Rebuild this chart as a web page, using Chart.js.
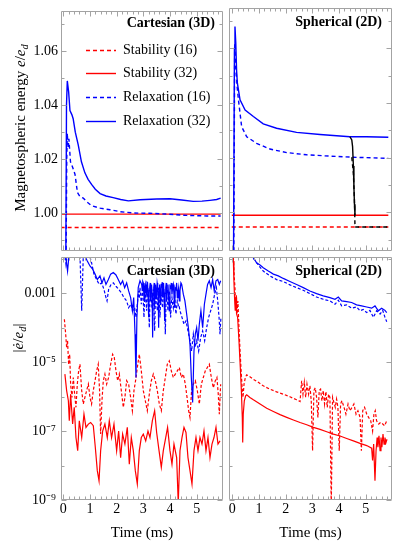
<!DOCTYPE html>
<html><head><meta charset="utf-8">
<script src="https://cdn.jsdelivr.net/npm/chart.js@4.4.1/dist/chart.umd.min.js"></script>
<style>
html,body{margin:0;padding:0;background:#fff;}
#wrap{position:relative;width:399px;height:546px;overflow:hidden;font-family:"Liberation Serif",serif;color:#000;}
canvas{position:absolute;left:0;top:0;}
.t{position:absolute;white-space:nowrap;line-height:16px;font-size:14px;}
.b{font-weight:bold;}
.rot{position:absolute;white-space:nowrap;font-size:15px;transform:translate(-50%,-50%) rotate(-90deg);}
.lg{position:absolute;left:86px;height:16px;white-space:nowrap;font-size:14px;line-height:16px;}
.lg svg{position:absolute;left:0;top:7px;}
.lg span{position:absolute;left:37px;top:0;}
sub{font-size:70%;vertical-align:-3px;line-height:0;}
</style></head><body>
<div id="wrap">
<canvas id="cTL" width="399" height="546" style="width:399px;height:546px"></canvas>
<canvas id="cTR" width="399" height="546" style="width:399px;height:546px"></canvas>
<canvas id="cBL" width="399" height="546" style="width:399px;height:546px"></canvas>
<canvas id="cBR" width="399" height="546" style="width:399px;height:546px"></canvas>

<div class="t b" style="right:184px;top:15px">Cartesian (3D)</div>
<div class="t b" style="right:17px;top:14px">Spherical (2D)</div>
<div class="t b" style="right:184px;top:263px">Cartesian (3D)</div>
<div class="t b" style="right:17px;top:263px">Spherical (2D)</div>

<div class="lg" style="top:42px"><svg width="30" height="3"><line x1="0" y1="1.5" x2="30" y2="1.5" stroke="rgb(255,0,0)" stroke-width="1.4" stroke-dasharray="4,3"/></svg><span>Stability (16)</span></div>
<div class="lg" style="top:65px"><svg width="30" height="3"><line x1="0" y1="1.5" x2="30" y2="1.5" stroke="rgb(255,0,0)" stroke-width="1.4"/></svg><span>Stability (32)</span></div>
<div class="lg" style="top:89px"><svg width="30" height="3"><line x1="0" y1="1.5" x2="30" y2="1.5" stroke="rgb(0,0,255)" stroke-width="1.4" stroke-dasharray="4,3"/></svg><span>Relaxation (16)</span></div>
<div class="lg" style="top:113px"><svg width="30" height="3"><line x1="0" y1="1.5" x2="30" y2="1.5" stroke="rgb(0,0,255)" stroke-width="1.4"/></svg><span>Relaxation (32)</span></div>

<div class="rot" style="left:20px;top:128px">Magnetospheric energy <i>e</i>/<i>e</i><sub><i>d</i></sub></div>
<div class="rot" style="left:18px;top:338px">|<i>ė</i>/<i>e</i><sub><i>d</i></sub>|</div>
</div>
<script>
// ---------- tick values / labels ----------
const timeTicks = [0, 1, 2, 3, 4, 5];
const timeTickLabels = ['0', '1', '2', '3', '4', '5'];
const timeMinorTicks = [0.2,0.4,0.6,0.8,1.2,1.4,1.6,1.8,2.2,2.4,2.6,2.8,3.2,3.4,3.6,3.8,4.2,4.4,4.6,4.8,5.2,5.4,5.6,5.8];
const energyTicks = [1.00, 1.02, 1.04, 1.06];
const energyTickLabels = ['1.00', '1.02', '1.04', '1.06'];
const energyMinorTicks = [0.99, 1.01, 1.03, 1.05, 1.07];
const rateTicks = [1e-9, 1e-7, 1e-5, 1e-3];
const rateTickLabels = ['10⁻⁹', '10⁻⁷', '10⁻⁵', '0.001'];
const rateMinorTicks = [1e-8, 1e-6, 1e-4, 1e-2];

// ---------- Cartesian (3D): magnetospheric energy e/e_d vs time (ms) ----------
const cartEnergyRelax32 = [[0.08,0.95],[0.12,1.04],[0.15,1.049],[0.2,1.045],[0.25,1.038],[0.32,1.0365],[0.37,1.035],[0.45,1.030],[0.56,1.0253],[0.68,1.019],[0.81,1.0149],[0.93,1.0125],[1.06,1.0106],[1.2,1.0088],[1.38,1.0072],[1.6,1.0063],[1.87,1.0057],[2.15,1.0050],[2.44,1.0045],[2.88,1.0049],[3.5,1.0052],[4.0,1.0053],[4.44,1.0048],[4.87,1.0043],[5.2,1.0044],[5.5,1.0047],[5.75,1.0050],[5.9,1.0055]];
const cartEnergyRelax16 = [[0.08,0.95],[0.13,1.02],[0.15,1.0296],[0.18,1.024],[0.21,1.0275],[0.27,1.019],[0.35,1.017],[0.44,1.0143],[0.53,1.0076],[0.63,1.006],[0.75,1.0055],[0.9,1.004],[1.06,1.0027],[1.38,1.0018],[1.75,1.0012],[2.13,1.0005],[2.63,1.0000],[3.25,0.9999],[3.88,0.9996],[4.63,0.9991],[5.38,0.9989],[5.9,0.9989]];
const cartEnergyStab32 = [[-0.1,0.9996],[5.9,0.9996]];
const cartEnergyStab16 = [[-0.1,0.9946],[5.9,0.9946]];

// ---------- Spherical (2D): magnetospheric energy ----------
const sphEnergyRelax32 = [[0.03,0.95],[0.08,1.06],[0.10,1.068],[0.13,1.062],[0.16,1.052],[0.19,1.0473],[0.29,1.0412],[0.48,1.0375],[0.79,1.0351],[1.16,1.0324],[1.66,1.0308],[2.41,1.0293],[3.29,1.0285],[4.41,1.0277],[5.03,1.0277],[5.85,1.0275]];
const sphEnergyRelax16 = [[0.04,0.95],[0.09,1.062],[0.12,1.056],[0.18,1.046],[0.23,1.0412],[0.35,1.0314],[0.54,1.0277],[0.91,1.0253],[1.41,1.0232],[2.04,1.0219],[2.79,1.0211],[3.66,1.0206],[4.54,1.0202],[5.85,1.0198]];
const sphEnergyStab32 = [[-0.02,0.9990],[5.85,0.9990]];
const sphEnergyStab16 = [[-0.02,0.9947],[5.85,0.9947]];
const sphEnergySwitch32 = [[4.41,1.0277],[4.48,1.0265],[4.51,1.0241],[4.54,1.017],[4.56,1.0094],[4.58,1.003],[4.60,0.9990]];
const sphEnergySwitch16 = [[4.48,1.0202],[4.54,1.0143],[4.58,1.0045],[4.60,0.9947],[5.85,0.9947]];

// ---------- Cartesian (3D): |de/dt / e_d| ----------
const cartRateStab32 = [[0.06,4.5e-6],[0.125,1.5e-6],[0.19,7.6e-7],[0.225,2.0e-7],[0.275,1.18e-6],[0.35,1.6e-7],[0.41,4.9e-7],[0.475,6.5e-8],[0.54,2.7e-8],[0.6,2.0e-7],[0.69,6.5e-8],[0.775,3.1e-7],[0.85,1.28e-7],[0.94,1.6e-7],[1.025,1.78e-7],[1.125,1.43e-7],[1.2,3.4e-8],[1.275,7.1e-9],[1.34,3.6e-9],[1.4,2.7e-8],[1.475,1.0e-7],[1.56,1.6e-7],[1.65,6.5e-8],[1.725,2.0e-7],[1.81,6.5e-8],[1.9,1.6e-7],[2.0,2.7e-8],[2.075,1.0e-7],[2.15,1.7e-8],[2.225,8.2e-8],[2.31,4.2e-8],[2.4,1.28e-7],[2.475,1.1e-8],[2.55,6.5e-8],[2.625,2.7e-8],[2.7,7.1e-9],[2.775,2.9e-9],[2.85,2.7e-8],[2.925,6.5e-8],[3.0,8.2e-8],[3.09,5.2e-8],[3.175,1.0e-7],[3.25,6.5e-8],[3.34,2.0e-7],[3.425,3.9e-7],[3.5,9.1e-8],[3.59,2.7e-8],[3.675,8.9e-9],[3.75,2.7e-8],[3.84,6.5e-8],[3.91,1.28e-7],[4.0,2.7e-8],[4.075,1.1e-8],[4.15,4.2e-8],[4.25,1.7e-8],[4.31,8e-10],[4.375,2.7e-8],[4.45,6.5e-8],[4.525,1.28e-7],[4.6,9.1e-8],[4.675,1.7e-8],[4.75,7.1e-9],[4.825,2.9e-9],[4.9,2.7e-8],[4.975,6.5e-8],[5.05,2.7e-8],[5.125,6.5e-8],[5.2,4.2e-8],[5.275,1.0e-7],[5.35,2.7e-8],[5.425,6.5e-8],[5.5,1.7e-8],[5.575,4.2e-8],[5.65,6.5e-8],[5.725,1.28e-7],[5.8,4.2e-8],[5.875,5.2e-8]];
const cartRateStab16 = [[0.04,1.76e-4],[0.09,6.5e-5],[0.125,2.7e-5],[0.16,4.2e-5],[0.2,8.7e-6],[0.24,1.7e-5],[0.275,2.3e-6],[0.325,9.5e-7],[0.375,3.6e-6],[0.425,1.18e-6],[0.475,4.9e-7],[0.525,2.3e-6],[0.575,5.6e-6],[0.625,8.7e-6],[0.69,1.5e-6],[0.75,6.1e-7],[0.81,9.5e-7],[0.875,1.5e-6],[0.94,2.3e-6],[1.0,9.5e-7],[1.06,6.1e-7],[1.125,1.5e-6],[1.19,2.9e-6],[1.25,5.6e-6],[1.31,8.7e-6],[1.36,1.5e-6],[1.4,8.2e-8],[1.45,7.6e-7],[1.5,2.9e-6],[1.56,4.5e-6],[1.625,2.3e-6],[1.7,3.6e-6],[1.775,8.7e-6],[1.85,1.7e-5],[1.91,1.4e-5],[1.975,5.6e-6],[2.04,2.9e-6],[2.1,4.5e-6],[2.175,1.5e-6],[2.25,4.9e-7],[2.31,9.5e-7],[2.375,2.9e-6],[2.45,2.3e-6],[2.525,9.5e-7],[2.59,3.9e-7],[2.65,1.5e-6],[2.71,2.9e-6],[2.775,7.0e-6],[2.85,1.7e-5],[2.925,5.6e-6],[3.0,1.5e-6],[3.075,7.6e-7],[3.15,3.9e-7],[3.225,1.18e-6],[3.3,2.9e-6],[3.375,4.5e-6],[3.45,2.9e-6],[3.525,1.5e-6],[3.6,6.1e-7],[3.675,3.9e-7],[3.75,1.5e-6],[3.825,3.6e-6],[3.9,8.7e-6],[3.975,1.09e-5],[4.05,5.6e-6],[4.125,3.6e-6],[4.2,4.5e-6],[4.275,5.6e-6],[4.35,7.0e-6],[4.425,3.6e-6],[4.5,4.5e-6],[4.575,2.3e-6],[4.64,9.5e-7],[4.7,3.9e-7],[4.75,2.5e-7],[4.81,1.5e-6],[4.875,2.3e-6],[4.95,2.9e-6],[5.025,1.5e-6],[5.1,6.1e-7],[5.175,2.3e-6],[5.25,3.6e-6],[5.325,5.6e-6],[5.4,7.0e-6],[5.475,8.7e-6],[5.55,3.6e-6],[5.625,1.8e-6],[5.7,2.9e-6],[5.76,3.6e-6],[5.81,1.18e-6],[5.85,3.1e-7],[5.9,2.3e-6]];
const cartRateRelax32 = [[0.0,0.03],[0.09,0.012],[0.16,4.4e-3],[0.21,0.012],[0.5,0.015],[0.81,1.2e-2],[0.9,8.6e-3],[1.0,6.2e-3],[1.1,5.0e-3],[1.19,3.6e-3],[1.275,2.5e-3],[1.375,3.2e-3],[1.45,2.0e-3],[1.525,2.8e-3],[1.6,1.8e-3],[1.69,2.5e-3],[1.775,3.6e-3],[1.875,4.0e-3],[1.975,3.4e-3],[2.06,2.5e-3],[2.15,1.8e-3],[2.225,2.3e-3],[2.3,1.46e-3],[2.375,2.0e-3],[2.45,1.17e-3],[2.525,7.5e-4],[2.59,3.1e-4],[2.64,7.5e-4],[2.69,6.5e-5],[2.725,3.6e-6],[2.76,2.0e-4],[2.81,1.46e-3],[2.875,2.3e-3],[2.94,1.8e-3],[2.96,1.2e-3],[2.98,2.2e-3],[3.0,2.0e-3],[3.02,9e-4],[3.04,6.0e-4],[3.06,1.5e-3],[3.075,1.8e-3],[3.1,1.1e-3],[3.125,9.4e-4],[3.14,2.1e-3],[3.16,2.0e-3],[3.18,8e-4],[3.2,2.0e-4],[3.22,1.2e-3],[3.24,1.46e-3],[3.26,2.0e-3],[3.275,6.0e-4],[3.29,1.3e-3],[3.31,1.8e-3],[3.33,1.0e-3],[3.35,5.2e-5],[3.37,9e-4],[3.39,1.46e-3],[3.41,2.0e-3],[3.425,3.8e-4],[3.44,1.2e-3],[3.46,1.8e-3],[3.48,7e-4],[3.5,9.4e-4],[3.52,2.0e-3],[3.54,1.6e-3],[3.56,8e-4],[3.575,1.0e-4],[3.59,1.1e-3],[3.61,1.8e-3],[3.63,1.0e-3],[3.65,4.8e-4],[3.67,1.9e-3],[3.69,1.46e-3],[3.71,2.1e-3],[3.725,7.5e-4],[3.74,1.3e-3],[3.76,2.0e-3],[3.78,9e-4],[3.8,1.58e-4],[3.82,1.0e-3],[3.84,1.46e-3],[3.86,2.0e-3],[3.875,6.0e-4],[3.9,1.2e-3],[3.925,1.8e-3],[3.95,8e-4],[3.975,3.1e-4],[4.0,1.6e-3],[4.025,1.46e-3],[4.05,2.0e-3],[4.075,9.4e-4],[4.1,1.5e-3],[4.125,1.8e-3],[4.15,9e-4],[4.175,3.8e-4],[4.2,1.4e-3],[4.225,1.3e-3],[4.25,2.0e-3],[4.275,7.5e-4],[4.3,1.1e-3],[4.325,1.46e-3],[4.35,6e-4],[4.375,1.17e-3],[4.41,2.0e-3],[4.44,1.8e-3],[4.5,9.4e-4],[4.56,6.0e-4],[4.625,2.5e-4],[4.69,1.0e-4],[4.75,3.3e-5],[4.8,3.6e-6],[4.85,6.8e-7],[4.9,2.1e-5],[4.95,6.5e-5],[5.0,1.0e-4],[5.05,4.2e-5],[5.1,1.26e-4],[5.16,3.1e-4],[5.225,1.0e-4],[5.29,4.8e-4],[5.35,9.4e-4],[5.41,1.8e-3],[5.475,2.3e-3],[5.54,1.46e-3],[5.6,2.5e-3],[5.66,1.17e-3],[5.725,2.3e-3],[5.79,2.5e-3],[5.85,1.8e-3],[5.9,2.3e-3]];
const cartRateRelax16 = [[0.0,0.03],[0.1,6.9e-3],[0.15,0.013],[0.625,0.013],[0.69,3.1e-4],[0.75,0.013],[0.975,1.35e-2],[1.06,7.7e-3],[1.15,3.6e-3],[1.25,2.5e-3],[1.35,1.8e-3],[1.44,2.0e-3],[1.525,1.3e-3],[1.6,7.5e-4],[1.64,6.0e-4],[1.7,1.3e-3],[1.79,1.8e-3],[1.875,2.0e-3],[1.975,1.6e-3],[2.075,1.3e-3],[2.175,1.04e-3],[2.275,7.5e-4],[2.375,6.0e-4],[2.45,3.8e-4],[2.525,4.8e-4],[2.6,3.1e-4],[2.675,3.8e-4],[2.725,2.0e-4],[2.775,4.8e-4],[2.825,1.17e-3],[2.85,7e-4],[2.875,1.46e-3],[2.9,9e-4],[2.925,4.8e-4],[2.95,9e-4],[2.975,1.3e-3],[3.0,6e-4],[3.025,2.0e-4],[3.05,8e-4],[3.075,1.17e-3],[3.1,6e-4],[3.125,3.1e-4],[3.15,1.0e-3],[3.175,1.46e-3],[3.2,5e-4],[3.225,1.0e-4],[3.25,7e-4],[3.275,1.17e-3],[3.3,7e-4],[3.325,3.8e-4],[3.35,9e-4],[3.375,1.3e-3],[3.4,4e-4],[3.425,8.1e-5],[3.45,6e-4],[3.475,1.04e-3],[3.5,6e-4],[3.525,3.1e-4],[3.55,9e-4],[3.575,1.46e-3],[3.6,6e-4],[3.625,2.0e-4],[3.65,7e-4],[3.675,9.4e-4],[3.7,5e-4],[3.725,3.8e-4],[3.75,9e-4],[3.775,1.3e-3],[3.8,5e-4],[3.825,6.5e-5],[3.85,5e-4],[3.875,9.4e-4],[3.9,6e-4],[3.925,3.1e-4],[3.95,8e-4],[3.975,1.17e-3],[4.0,5e-4],[4.025,2.0e-4],[4.05,5e-4],[4.075,7.5e-4],[4.1,5e-4],[4.125,3.8e-4],[4.15,6e-4],[4.175,9.4e-4],[4.2,4e-4],[4.225,2.5e-4],[4.25,4e-4],[4.275,6.0e-4],[4.3,5e-4],[4.325,3.8e-4],[4.35,4e-4],[4.375,3.1e-4],[4.45,2.0e-4],[4.525,1.26e-4],[4.6,1.58e-4],[4.675,8.1e-5],[4.75,4.2e-5],[4.81,2.1e-5],[4.875,6.5e-5],[4.94,2.7e-5],[5.0,4.2e-5],[5.075,2.1e-5],[5.15,5.2e-5],[5.225,8.1e-5],[5.3,4.2e-5],[5.375,1.0e-4],[5.45,2.0e-4],[5.525,3.1e-4],[5.6,4.8e-4],[5.675,9.4e-4],[5.74,1.46e-3],[5.79,6.0e-4],[5.84,2.0e-4],[5.875,6.5e-5],[5.91,2.0e-4]];

// ---------- Spherical (2D): |de/dt / e_d| ----------
const sphRateRelax32 = [[0.0,0.1],[0.66,0.017],[0.79,1.08e-2],[0.91,7.7e-3],[1.04,6.6e-3],[1.16,5.5e-3],[1.35,4.4e-3],[1.54,3.6e-3],[1.725,3.2e-3],[1.91,2.7e-3],[2.16,2.2e-3],[2.41,1.8e-3],[2.66,1.46e-3],[2.91,1.17e-3],[3.16,9.8e-4],[3.41,8.4e-4],[3.66,7.5e-4],[3.85,6.7e-4],[3.975,7.8e-4],[4.1,6.0e-4],[4.29,5.7e-4],[4.475,5.4e-4],[4.66,4.6e-4],[4.85,4.3e-4],[5.04,4.0e-4],[5.225,3.7e-4],[5.35,4.3e-4],[5.475,3.1e-4],[5.6,3.7e-4],[5.725,3.2e-4],[5.79,2.75e-4]];
const sphRateRelax16 = [[0.0,0.1],[0.66,0.017],[0.79,1.03e-2],[0.975,6.6e-3],[1.16,4.4e-3],[1.41,3.2e-3],[1.66,2.5e-3],[1.91,2.2e-3],[2.16,1.75e-3],[2.41,1.46e-3],[2.66,1.22e-3],[2.91,9.8e-4],[3.16,7.8e-4],[3.41,6.7e-4],[3.66,6.0e-4],[3.85,4.8e-4],[3.975,6.3e-4],[4.1,4.3e-4],[4.29,4.6e-4],[4.475,3.7e-4],[4.66,4.0e-4],[4.79,3.1e-4],[4.91,3.4e-4],[5.04,2.75e-4],[5.16,3.2e-4],[5.29,2.0e-4],[5.41,3.1e-4],[5.54,2.5e-4],[5.64,3.2e-4],[5.725,2.0e-4],[5.79,1.5e-4]];
const sphRateStab16 = [[0,0.03],[0.04,1.08e-2],[0.075,2.8e-3],[0.1,1.46e-3],[0.125,3.8e-4],[0.15,9.4e-4],[0.175,2.5e-4],[0.21,6.0e-4],[0.26,6.5e-5],[0.31,1.09e-5],[0.36,2.3e-6],[0.4,9.5e-7],[0.44,2.3e-6],[0.49,3.6e-6],[0.54,4.3e-6],[0.66,3.8e-6],[0.79,3.2e-6],[0.975,2.6e-6],[1.16,2.06e-6],[1.41,1.65e-6],[1.66,1.38e-6],[1.91,1.18e-6],[2.16,9.9e-7],[2.41,8.1e-7],[2.54,7.2e-7],[2.6,2.9e-6],[2.65,1.18e-6],[2.7,2.6e-6],[2.75,9.5e-7],[2.8,2.3e-6],[2.86,1.18e-6],[2.91,2.06e-6],[2.96,7.6e-7],[3.01,2.7e-8],[3.06,1.5e-6],[3.11,1.8e-6],[3.16,9.5e-7],[3.21,2.5e-7],[3.26,1.5e-6],[3.31,1.65e-6],[3.36,7.6e-7],[3.41,1.5e-6],[3.46,6.1e-7],[3.51,1.4e-6],[3.56,4.9e-7],[3.61,1.18e-6],[3.66,9.5e-7],[3.71,6e-10],[3.76,9.5e-7],[3.81,6.8e-7],[3.86,4.9e-7],[3.91,8.5e-7],[3.96,4.9e-7],[4.01,2.7e-8],[4.06,6.1e-7],[4.11,7.6e-7],[4.19,4.9e-7],[4.26,3.1e-7],[4.34,6.1e-7],[4.41,3.9e-7],[4.49,4.9e-7],[4.56,6.1e-7],[4.64,3.1e-7],[4.71,3.9e-7],[4.79,2.5e-7],[4.84,2.7e-8],[4.89,3.9e-7],[4.96,4.9e-7],[5.04,3.1e-7],[5.11,2.5e-7],[5.19,2.0e-7],[5.26,1.0e-7],[5.31,3.1e-7],[5.36,3.9e-7],[5.41,2.0e-7],[5.49,1.6e-7],[5.56,1.78e-7],[5.64,1.6e-7],[5.71,1.43e-7],[5.79,2.0e-7]];
const sphRateStab32 = [[0,0.03],[0.04,8.6e-3],[0.06,2.3e-3],[0.09,6.0e-4],[0.11,3.1e-4],[0.14,7.5e-4],[0.16,2.5e-4],[0.2,2.0e-4],[0.25,4.2e-5],[0.3,7.0e-6],[0.34,1.5e-6],[0.375,2.5e-7],[0.39,4.7e-8],[0.41,3.1e-7],[0.45,7.6e-7],[0.5,1.06e-6],[0.54,1.13e-6],[0.66,9.5e-7],[0.79,8.1e-7],[1.04,6.1e-7],[1.29,4.6e-7],[1.54,3.7e-7],[1.79,3.0e-7],[2.04,2.5e-7],[2.29,2.1e-7],[2.54,1.78e-7],[2.79,1.53e-7],[3.04,1.28e-7],[3.29,1.12e-7],[3.54,9.6e-8],[3.79,8.2e-8],[4.04,7.2e-8],[4.29,6.1e-8],[4.54,5.2e-8],[4.79,4.4e-8],[5.04,3.8e-8],[5.225,3.2e-8],[5.26,1.4e-8],[5.3,4.2e-8],[5.35,3.6e-9],[5.39,2.7e-8],[5.43,6.5e-8],[5.46,3.4e-8],[5.5,7.3e-8],[5.54,2.7e-8],[5.575,6.5e-8],[5.61,3.4e-8],[5.65,8.2e-8],[5.69,4.2e-8],[5.725,6.5e-8],[5.76,4.6e-8],[5.8,5.8e-8]];

// ---------- drawing ----------
const RED = 'rgb(255,0,0)', BLUE = 'rgb(0,0,255)', BLACK = '#000';
Chart.defaults.font.family = "'Liberation Serif', serif";
Chart.defaults.font.size = 14;
Chart.defaults.color = '#000';

const framePlugin = {
  id: 'frame',
  afterDraw(chart, args, o) {
    const {ctx, chartArea: a} = chart;
    const xs = chart.scales.x, ys = chart.scales.y;
    const L = Math.round(a.left) + 0.5, R = Math.round(a.right) - 0.5;
    const T = Math.round(a.top) + 0.5, B = Math.round(a.bottom) - 0.5;
    ctx.save();
    ctx.strokeStyle = '#a3a3a3';
    ctx.lineWidth = 1;
    ctx.beginPath();
    ctx.rect(L, T, R - L, B - T);
    const tx = (list, len) => list.forEach(v => {
      const p = Math.round(xs.getPixelForValue(v)) + 0.5;
      ctx.moveTo(p, T); ctx.lineTo(p, T + len); ctx.moveTo(p, B); ctx.lineTo(p, B - len);
    });
    const ty = (list, len) => list.forEach(v => {
      const p = Math.round(ys.getPixelForValue(v)) + 0.5;
      ctx.moveTo(L, p); ctx.lineTo(L + len, p); ctx.moveTo(R, p); ctx.lineTo(R - len, p);
    });
    tx(o.xMajor, 5); tx(o.xMinor, 3); ty(o.yMajor, 5); ty(o.yMinor, 3);
    ctx.stroke();
    ctx.restore();
  }
};

function ds(pairs, color, dashed, width) {
  return {
    data: pairs.map(p => ({x: p[0], y: p[1]})),
    borderColor: color, borderWidth: width, borderDash: dashed ? (width > 1.3 ? [4, 3] : [3, 2]) : [],
    pointRadius: 0, tension: 0, fill: false
  };
}

function xAxis(min, max, showLabels) {
  const ax = {
    type: 'linear', min: min, max: max, display: showLabels,
    grid: {display: false, drawTicks: false}, border: {display: false}
  };
  if (showLabels) {
    ax.afterFit = s => { s.height = 46; };
    ax.afterBuildTicks = s => { s.ticks = timeTicks.map(v => ({value: v})); };
    ax.ticks = {padding: 1, autoSkip: false, maxRotation: 0, callback: (v, i) => timeTickLabels[i], font: {size: 14}};
    ax.title = {display: true, text: 'Time (ms)', font: {size: 15}, padding: {top: 0, bottom: 4}};
  }
  return ax;
}

function yAxis(kind, showLabels) {
  const isLog = kind === 'rate';
  const ax = {
    type: isLog ? 'logarithmic' : 'linear',
    min: isLog ? 1e-9 : 0.9859, max: isLog ? 0.0113 : 1.0748,
    display: showLabels, position: 'left',
    grid: {display: false, drawTicks: false}, border: {display: false}
  };
  if (showLabels) {
    const vals = isLog ? rateTicks : energyTicks;
    const labs = isLog ? rateTickLabels : energyTickLabels;
    ax.afterFit = s => { s.width = 61; };
    ax.afterBuildTicks = s => { s.ticks = vals.map(v => ({value: v})); };
    ax.ticks = {padding: isLog ? 5 : 3, autoSkip: false, callback: (v, i) => labs[i], font: {size: 14}};
  }
  return ax;
}

function make(id, datasets, pad, xmin, kind, leftLabels, bottomLabels) {
  const isLog = kind === 'rate';
  new Chart(document.getElementById(id), {
    type: 'line',
    data: {datasets: datasets},
    options: {
      responsive: false, animation: false, parsing: true,
      layout: {padding: pad},
      scales: {x: xAxis(xmin, 5.988, bottomLabels), y: yAxis(kind, leftLabels)},
      plugins: {
        legend: {display: false}, tooltip: {enabled: false},
        frame: {
          xMajor: timeTicks, xMinor: timeMinorTicks,
          yMajor: isLog ? rateTicks : energyTicks, yMinor: isLog ? rateMinorTicks : energyMinorTicks
        }
      }
    },
    plugins: [framePlugin]
  });
}

make('cTL', [
  ds(cartEnergyRelax32, BLUE, false, 1.4),
  ds(cartEnergyRelax16, BLUE, true, 1.4),
  ds(cartEnergyStab32, RED, false, 1.4),
  ds(cartEnergyStab16, RED, true, 1.4)
], {left: 0, top: 8, right: 176, bottom: 295}, -0.086, 'energy', true, false);

make('cTR', [
  ds(sphEnergySwitch32, BLACK, false, 1.4),
  ds(sphEnergySwitch16, BLACK, true, 1.4),
  ds(sphEnergyRelax32, BLUE, false, 1.4),
  ds(sphEnergyRelax16, BLUE, true, 1.4),
  ds(sphEnergyStab32, RED, false, 1.4),
  ds(sphEnergyStab16, RED, true, 1.4)
], {left: 229, top: 8, right: 7, bottom: 295}, -0.124, 'energy', false, false);

make('cBL', [
  ds(cartRateRelax32, BLUE, false, 1.2),
  ds(cartRateRelax16, BLUE, true, 1.2),
  ds(cartRateStab32, RED, false, 1.2),
  ds(cartRateStab16, RED, true, 1.2)
], {left: 0, top: 257, right: 176, bottom: 0}, -0.086, 'rate', true, true);

make('cBR', [
  ds(sphRateRelax32, BLUE, false, 1.2),
  ds(sphRateRelax16, BLUE, true, 1.2),
  ds(sphRateStab32, RED, false, 1.2),
  ds(sphRateStab16, RED, true, 1.2)
], {left: 229, top: 257, right: 7, bottom: 0}, -0.124, 'rate', false, true);
</script>
</body></html>
